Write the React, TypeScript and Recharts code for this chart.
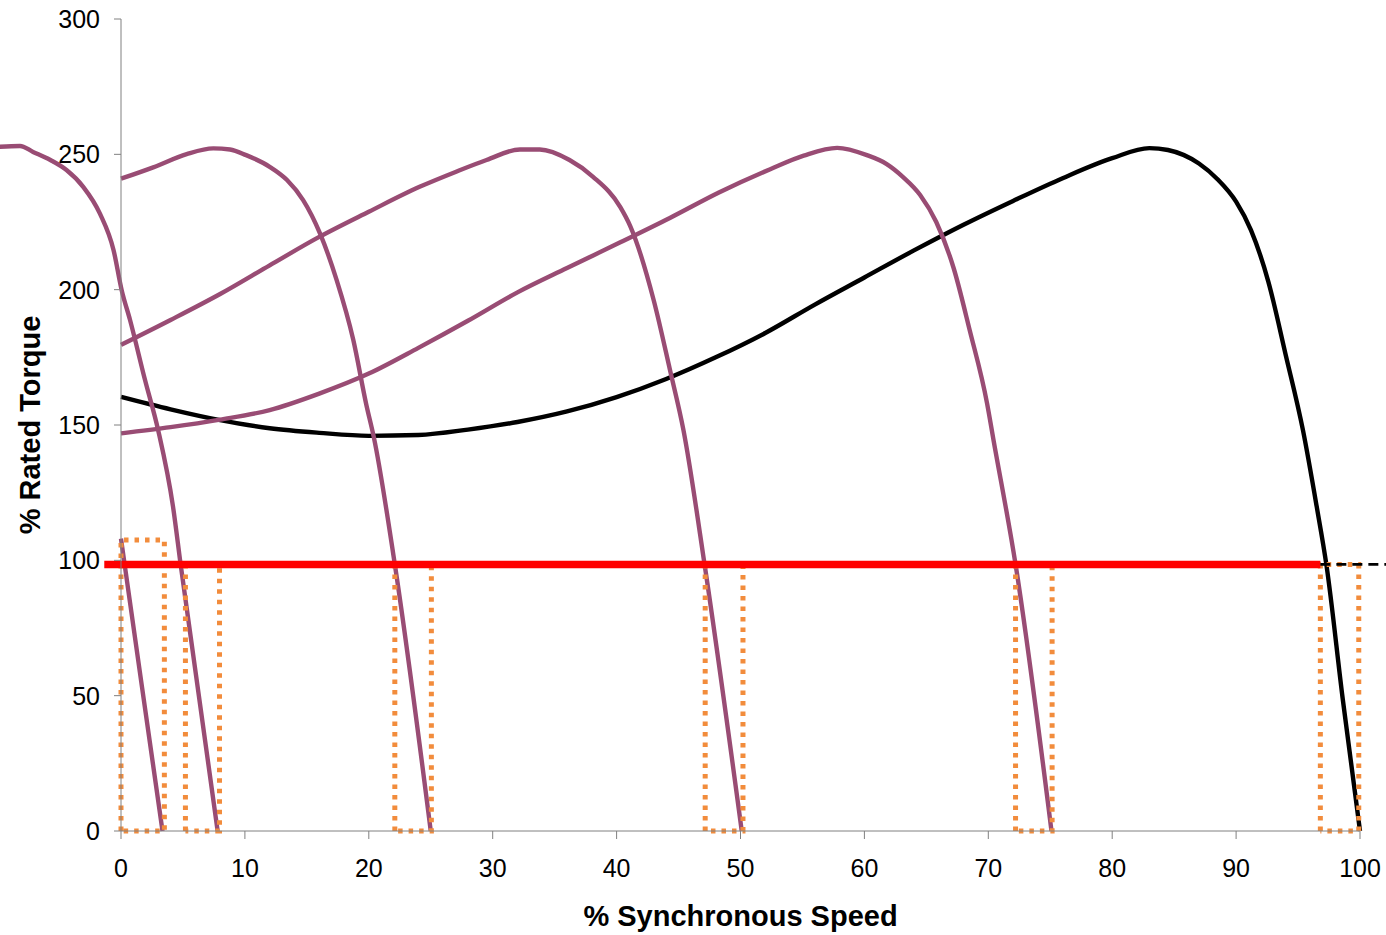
import { Label, Line, LineChart, XAxis, YAxis } from 'recharts'

// full-speed motor curve (100% synchronous speed)
const motorSpeed = [0, 4, 8, 12, 16, 20, 24, 28, 32, 36, 40, 44, 48, 52, 56, 60, 64, 68, 72, 76, 80, 83, 84.5, 87, 88.5, 90, 91.2, 92.6, 94, 95.4, 96.5, 97.3, 98.6, 100]
const motorTorque = [160.4, 155.8, 151.8, 148.8, 147.1, 146, 146.3, 148.3, 151.1, 155, 160.3, 167, 175, 184, 194.5, 204.5, 214.5, 224, 232.8, 241.2, 248.6, 252.3, 251.6, 246.6, 240.8, 232.5, 222, 203, 176, 148, 120, 98, 49, 0]

// drive curves at reduced frequency
const drive75Speed = [0, 4, 8, 12, 16, 20, 24, 28, 32, 36, 40.3, 44.3, 48.3, 52.4, 55.1, 57.8, 60.2, 61.8, 63.1, 64.5, 65.8, 67.2, 68.5, 69.9, 70.4, 72.2, 75.1]
const drive75Torque = [146.9, 149.2, 152, 155.5, 161.6, 169, 178.5, 188.5, 199, 208, 217.5, 226.5, 236, 244.5, 249.5, 252.4, 249.7, 246.4, 241.7, 235, 225, 208, 185, 158, 145, 98.5, 0]

const drive50Speed = [0, 4, 8, 12, 16, 20, 24.1, 27, 29.5, 32.2, 33.8, 36.2, 38.1, 40.3, 41.1, 43, 44.3, 45.4, 47.1, 50.1]
const drive50Torque = [179.6, 188.8, 198.4, 209, 219.5, 228.8, 238, 243.5, 247.9, 251.8, 251.8, 247.9, 241.7, 230.5, 223.5, 196, 170.5, 148, 98.5, 0]

const drive25Speed = [0, 2.6, 5.3, 7.45, 8.8, 10.1, 12, 13.4, 14.7, 16.06, 17.4, 18.75, 19.8, 20.4, 22.1, 25]
const drive25Torque = [241, 245.2, 250.1, 252.2, 251.8, 249.7, 245.4, 240.5, 233.1, 220.8, 203.6, 181.4, 157.5, 145.6, 98.5, 0]

const drive8Speed = [-10.5, -8.15, -7.1, -5.7, -4.4, -3.05, -1.7, -0.6, 0.05, 0.73, 1.94, 3.0, 4.2, 4.8, 7.8]
const drive8Torque = [252.6, 253.1, 250.9, 247.9, 244.2, 238, 228.1, 214.6, 199.9, 188.8, 166.6, 148.1, 119.8, 98.9, 0]

const drive3Speed = [0, 1.7, 3.35]
const drive3Torque = [108, 53, 0]

// dotted pulses: [left edge, right edge, height]
const pulses = [
  [0, 3.5, 107.5],
  [5.2, 7.95, 98.5],
  [22.1, 25.05, 98.5],
  [47.15, 50.2, 98.5],
  [72.2, 75.15, 98.5],
  [96.8, 99.9, 98.5],
]

const loadSpeed = [-1.35, 96.8]
const loadTorque = [98.5, 98.5]
const loadExtSpeed = [96.8, 102.5]
const loadExtTorque = [98.5, 98.5]

const xTicks = [0, 10, 20, 30, 40, 50, 60, 70, 80, 90, 100]
const yTicks = [0, 50, 100, 150, 200, 250, 300]

const purple = '#994C74'
const orange = '#F28C3C'
const axisGray = '#808080'
const font = '"Liberation Sans", Arial, sans-serif'

function toPoints(xs: number[], ys: number[]) {
  return xs.map((x, i) => ({ x, y: ys[i] }))
}

function pulsePoints(p: number[]) {
  const [a, b, h] = p
  return toPoints([a, a, b, b, a], [0, h, h, 0, 0])
}

const driveCurves = [
  toPoints(drive75Speed, drive75Torque),
  toPoints(drive50Speed, drive50Torque),
  toPoints(drive25Speed, drive25Torque),
  toPoints(drive8Speed, drive8Torque),
  toPoints(drive3Speed, drive3Torque),
]

export default function App() {
  return (
    <div style={{ width: 1386, height: 935 }}>
      <style>{'body{margin:0} .recharts-line, .recharts-line *{clip-path:none !important}'}</style>
      <LineChart width={1386} height={935} margin={{ top: 19, right: 26, bottom: 0, left: 0 }}>
        <XAxis
          allowDataOverflow
          dataKey="x"
          domain={[0, 100]}
          height={104}
          stroke={axisGray}
          tick={{ fill: '#000', fontSize: 25, fontFamily: font }}
          tickMargin={20}
          tickSize={8}
          ticks={xTicks}
          type="number"
        >
          <Label
            offset={9}
            position="insideBottom"
            style={{ fill: '#000', fontSize: 29, fontWeight: 'bold', fontFamily: font }}
            value="% Synchronous Speed"
          />
        </XAxis>
        <YAxis
          allowDataOverflow
          dataKey="y"
          domain={[0, 300]}
          stroke={axisGray}
          tick={{ fill: '#000', fontSize: 25, fontFamily: font }}
          tickMargin={14}
          tickSize={7}
          ticks={yTicks}
          type="number"
          width={121}
        >
          <Label
            angle={-90}
            offset={30}
            position="insideLeft"
            style={{ fill: '#000', fontSize: 29, fontWeight: 'bold', fontFamily: font, textAnchor: 'middle' }}
            value="% Rated Torque"
          />
        </YAxis>
        <Line
          activeDot={false}
          data={toPoints(motorSpeed, motorTorque)}
          dataKey="y"
          dot={false}
          isAnimationActive={false}
          stroke="#000"
          strokeWidth={4.4}
          type="monotone"
        />
        {driveCurves.map((pts, i) => (
          <Line
            activeDot={false}
            data={pts}
            dataKey="y"
            dot={false}
            isAnimationActive={false}
            key={`drive-${i}`}
            stroke={purple}
            strokeWidth={4.4}
            type="monotone"
          />
        ))}
        {pulses.map((p, i) => (
          <Line
            activeDot={false}
            data={pulsePoints(p)}
            dataKey="y"
            dot={false}
            isAnimationActive={false}
            key={`pulse-${i}`}
            stroke={orange}
            strokeDasharray="4.5 6"
            strokeWidth={5}
            type="linear"
          />
        ))}
        <Line
          activeDot={false}
          data={toPoints(loadSpeed, loadTorque)}
          dataKey="y"
          dot={false}
          isAnimationActive={false}
          stroke="#FF0000"
          strokeWidth={7.5}
          type="linear"
        />
        <Line
          activeDot={false}
          data={toPoints(loadExtSpeed, loadExtTorque)}
          dataKey="y"
          dot={false}
          isAnimationActive={false}
          stroke="#000"
          strokeDasharray="10 6"
          strokeWidth={2.8}
          type="linear"
        />
      </LineChart>
    </div>
  )
}
